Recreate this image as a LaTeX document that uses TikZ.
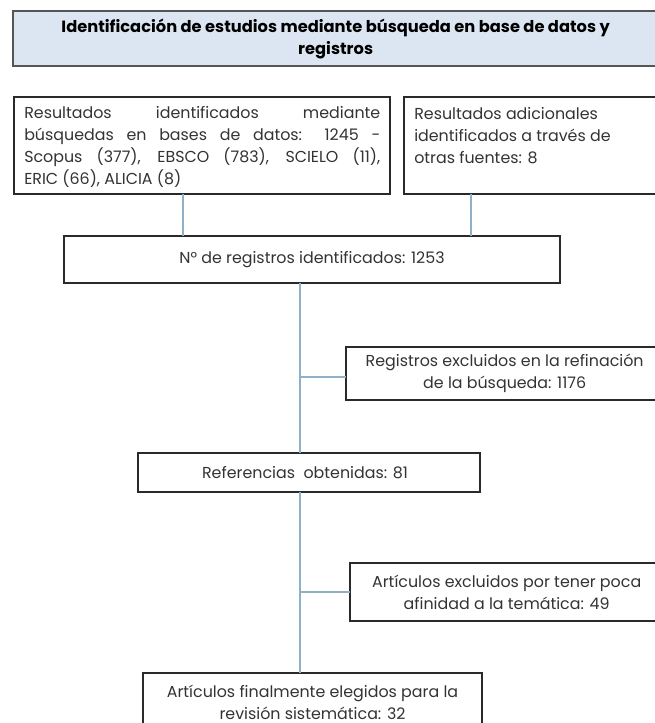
\documentclass[tikz,border=0pt]{standalone}
\usepackage{fontspec}
\setmainfont{Poppins}
\definecolor{boxline}{HTML}{2A2A2A}
\definecolor{conn}{HTML}{8FB0C6}
\definecolor{headfill}{HTML}{DCE6F2}
\definecolor{txt}{HTML}{333333}
\newcommand{\bodyfont}{\fontsize{11.9}{16.5}\selectfont}
\tikzset{
  flowbox/.style={draw=boxline, line width=1.1pt, rectangle, anchor=north west, inner sep=0pt, outer sep=0pt},
  headbox/.style={flowbox, fill=headfill, draw=boxline!80, text=black, font=\bfseries\fontsize{12.2}{16.5}\selectfont},
  boxtext/.style={text=txt, font=\bodyfont, inner sep=0pt},
  link/.style={draw=conn, line width=0.8pt}
}
\begin{document}
\begin{tikzpicture}[x=0.75pt,y=-0.75pt]
\useasboundingbox (0,0) rectangle (654,723);
% header
\node[headbox, minimum width=484pt, minimum height=41.25pt, align=center] (head) at (13,11)
  {Identificación de estudios mediante búsqueda en base de datos y\\registros};
% box 1
\node[flowbox, minimum width=282pt, minimum height=72.75pt] (b1) at (14,97) {};
\node[boxtext, anchor=north west, text width=267pt, align=justify] (b1t) at (24,106.5)
  {Resultados identificados mediante\linebreak búsquedas en bases de datos: 1245 -\linebreak Scopus (377), EBSCO (783), SCIELO (11),\linebreak ERIC (66), ALICIA (8)};
% box 2
\node[flowbox, minimum width=190pt, minimum height=72.75pt] (b2) at (404,97) {};
\node[boxtext, anchor=north west, align=left] (b2t) at (414,107)
  {Resultados adicionales\\identificados a través de\\otras fuentes: 8};
% N registros
\node[flowbox, minimum width=372pt, minimum height=35.25pt] (nreg) at (64,236) {};
\node[boxtext] (nregt) at (nreg.center) {N° de registros identificados: 1253};
% excluded 1
\node[flowbox, minimum width=234pt, minimum height=39.75pt] (ex1) at (346,347) {};
\node[boxtext, align=center] (ex1t) at ([xshift=2pt]ex1.center) {Registros excluidos en la refinación\\de la búsqueda: 1176};
% referencias
\node[flowbox, minimum width=256.5pt, minimum height=29.25pt] (ref) at (138,453) {};
\node[boxtext] (reft) at ([xshift=-3pt]ref.center) {Referencias\ \ obtenidas: 81};
% excluded 2
\node[flowbox, minimum width=231pt, minimum height=43.5pt] (ex2) at (350,563) {};
\node[boxtext, align=center] (ex2t) at ([xshift=2pt]ex2.center) {Artículos excluidos por tener poca\\afinidad a la temática: 49};
% final
\node[flowbox, minimum width=254.25pt, minimum height=45pt] (fin) at (143,673) {};
\node[boxtext, align=center, anchor=north] (fint) at ([yshift=-8.5pt]fin.north) {Artículos finalmente elegidos para la\\revisión sistemática: 32};
% connectors
\coordinate (c1) at (183,0);
\coordinate (c2) at (471,0);
\coordinate (c3) at (300,0);
\coordinate (j1) at (300,377);
\coordinate (j2) at (300,592);
\draw[link] (c1 |- b1.south) -- (c1 |- nreg.north);
\draw[link] (c2 |- b2.south) -- (c2 |- nreg.north);
\draw[link] (c3 |- nreg.south) -- (c3 |- ref.north);
\draw[link] (j1) -- (j1 -| ex1.west);
\draw[link] (c3 |- ref.south) -- (c3 |- fin.north);
\draw[link] (j2) -- (j2 -| ex2.west);
\end{tikzpicture}
\end{document}
